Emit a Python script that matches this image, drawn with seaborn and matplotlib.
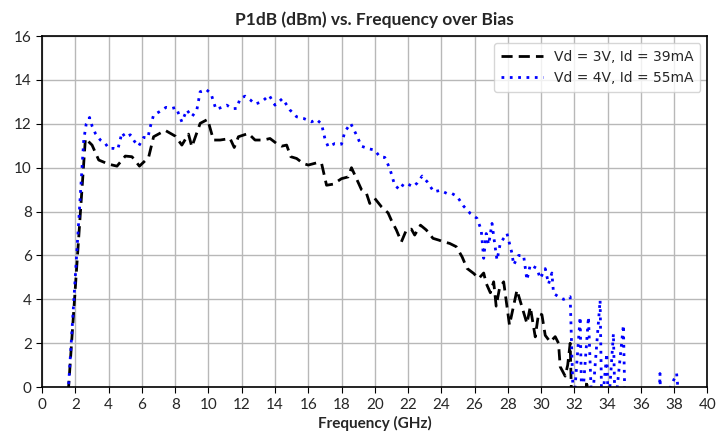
import numpy as np
import pandas as pd
import matplotlib
matplotlib.use("Agg")
import matplotlib.pyplot as plt
import seaborn as sns

# Vd = 3V, Id = 39mA  (values below the axis drawn as -1, clipped)
freq_3v = [1.5, 2.6, 3.0, 3.4, 4.0, 4.5, 5.0, 5.4, 5.85, 6.4, 6.7, 7.4, 8.0, 8.4, 8.8,
           9.0, 9.5, 9.95, 10.3, 10.7, 11.3, 11.55, 11.8, 12.4, 12.8, 13.3, 13.7, 14.1,
           14.4, 14.7, 14.95, 15.3, 15.7, 16.0, 16.5, 16.8, 17.1, 17.5, 18.0, 18.4, 18.6,
           18.9, 19.2, 19.5, 19.7, 20.0, 20.4, 20.8, 21.0, 21.3, 21.6, 21.9, 22.2, 22.4,
           22.75, 23.1, 23.5, 23.85, 24.15, 24.5, 24.9, 25.25, 25.55, 25.95, 26.25, 26.55,
           26.7, 26.95, 27.15, 27.3, 27.5, 27.75, 28.1, 28.55, 28.85, 29.15, 29.35, 29.65,
           29.85, 30.05, 30.25, 30.55, 30.85, 31.05, 31.15, 31.45, 31.6, 31.75, 31.85,
           32.6, 32.75, 32.85, 33.0]
p1db_3v = [-1, 11.33, 11.03, 10.35, 10.16, 10.07, 10.53, 10.5, 10.07, 10.47, 11.41, 11.7,
           11.44, 11.03, 11.53, 10.95, 12.02, 12.2, 11.26, 11.26, 11.33, 10.92, 11.41,
           11.56, 11.26, 11.26, 11.33, 11.1, 10.98, 11.03, 10.5, 10.42, 10.19, 10.12,
           10.22, 10.2, 9.2, 9.25, 9.5, 9.58, 10.0, 9.5, 9.0, 8.83, 8.37, 8.6, 8.22, 7.94,
           7.6, 7.16, 6.62, 7.16, 7.2, 6.93, 7.38, 7.16, 6.78, 6.7, 6.62, 6.55, 6.4, 5.94,
           5.41, 5.18, 4.95, 5.2, 4.73, 4.3, 4.8, 3.69, 4.5, 4.8, 2.83, 4.42, 3.66, 2.9,
           3.66, 2.29, 3.36, 3.3, 2.36, 2.06, 2.3, 2.0, 0.93, 0.5, 1.0, 2.0, -1,
           -1, 0.3, -1, -1]

# Vd = 4V, Id = 55mA
freq_4v = [1.5, 2.5, 2.65, 2.85, 3.0, 3.2, 3.5, 3.8, 4.0, 4.3, 4.55, 4.8, 5.0, 5.3, 5.55,
           5.8, 6.1, 6.35, 6.5, 6.7, 7.05, 7.45, 7.8, 8.05, 8.4, 8.7, 9.0, 9.3, 9.5, 9.85,
           10.15, 10.45, 10.8, 11.1, 11.45, 11.7, 11.9, 12.2, 12.5, 12.8, 13.2, 13.65, 14.0,
           14.45, 14.9, 15.3, 15.7, 16.2, 16.5, 16.8, 17.0, 17.2, 17.6, 18.0, 18.2, 18.55,
           18.9, 19.2, 19.6, 20.0, 20.3, 20.6, 20.9, 21.2, 21.5, 21.75, 22.0, 22.3, 22.55,
           22.85, 23.15, 23.55, 23.95, 24.35, 24.65, 24.95, 25.35, 25.75, 26.15, 26.4,
           26.55, 26.7, 26.85, 27.05, 27.2, 27.35, 27.55, 27.95, 28.25, 28.35, 28.65, 28.95,
           29.15, 29.35, 29.75, 29.95, 30.25, 30.45, 30.65, 30.75, 31.05, 31.35, 31.75,
           31.95, 32.35, 32.45, 32.85, 33.05, 33.55, 33.65, 33.95, 34.05, 34.35, 34.45,
           34.95, 35.05, 37.1, 37.15, 37.2, 38.15, 38.35]
p1db_4v = [-1, 11.26, 12.0, 12.29, 11.9, 11.56, 11.26, 11.1, 10.88, 10.88, 10.84, 11.6,
           11.38, 11.5, 11.2, 10.98, 11.38, 11.35, 11.86, 12.4, 12.55, 12.75, 12.7, 12.75,
           12.09, 12.63, 12.32, 12.63, 13.46, 13.57, 13.38, 12.66, 12.75, 12.85, 12.69,
           12.7, 13.15, 13.26, 13.1, 12.9, 13.0, 13.3, 12.85, 13.15, 12.63, 12.32, 12.25,
           12.09, 12.2, 11.99, 11.33, 10.95, 11.1, 11.07, 11.64, 12.02, 11.49, 10.98, 10.87,
           10.8, 10.5, 10.47, 9.97, 9.2, 9.0, 9.28, 9.25, 9.13, 9.3, 9.62, 9.36, 8.9, 8.97,
           8.82, 8.82, 8.69, 8.24, 7.91, 7.69, 7.16, 5.87, 7.0, 6.5, 7.46, 6.6, 5.79, 6.56,
           7.0, 6.1, 5.57, 6.0, 6.0, 4.88, 5.57, 5.41, 4.95, 5.4, 4.7, 5.2, 4.27, 4.12, 4.0,
           4.12, -1, 3.2, -1, 3.2, -1, 3.96, -1, 1.53, -1, 2.44, -1, 2.83, -1, -1, 0.62,
           -1, 0.62, -1]

label_3v = "Vd = 3V, Id = 39mA"
label_4v = "Vd = 4V, Id = 55mA"

df3 = pd.DataFrame({"freq": freq_3v, "p1db": p1db_3v})
df4 = pd.DataFrame({"freq": freq_4v, "p1db": p1db_4v})

sns.set_style("ticks")
plt.rcParams['font.family'] = ['Lato', 'DejaVu Sans']

fig = plt.figure(figsize=(7.27, 4.34), dpi=100)
ax = fig.add_axes([0.058, 0.108, 0.915, 0.809])

sns.lineplot(x="freq", y="p1db", data=df3, ax=ax, color="black", linestyle=(0, (4, 2.2)),
             linewidth=2, label=label_3v, estimator=None, sort=False)
sns.lineplot(x="freq", y="p1db", data=df4, ax=ax, color="blue", linestyle=(0, (1, 2)),
             linewidth=2, label=label_4v, estimator=None, sort=False)

ax.set_xlim(0, 40)
ax.set_ylim(0, 16)
ax.set_xticks(np.arange(0, 41, 2))
ax.set_yticks(np.arange(0, 17, 2))
ax.grid(True, color="#b8b8b8", linewidth=1)
ax.set_axisbelow(True)
for s in ax.spines.values():
    s.set_color("black")
    s.set_linewidth(1.2)
ax.tick_params(labelsize=11, length=4, color="black")

ax.set_title("P1dB (dBm) vs. Frequency over Bias", fontsize=12.5, fontweight="bold", pad=8)
ax.set_xlabel("Frequency (GHz)", fontsize=11, fontweight="bold", labelpad=3)
ax.set_ylabel("")

leg = ax.legend(loc="upper right", prop={"family": "DejaVu Sans", "size": 10},
                handlelength=3, fancybox=True, framealpha=0.8, borderpad=0.5)

fig.savefig("out.png", dpi=100)
